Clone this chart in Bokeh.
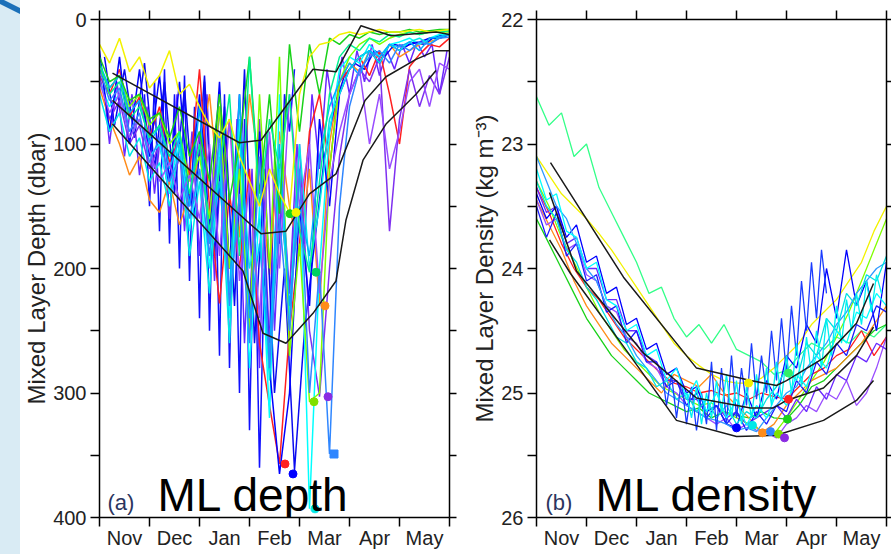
import numpy as np
from bokeh.plotting import figure
from bokeh.models import Range1d, FixedTicker, LinearAxis, Label, Div, CustomJSTickFormatter
from bokeh.layouts import row
from bokeh.embed import file_html
from bokeh.resources import INLINE

# ---------------- DATA ----------------
months = ["Nov", "Dec", "Jan", "Feb", "Mar", "Apr", "May"]
month_edges = [0, 1, 2, 3, 4, 5, 6, 7]
month_centers = [0.5, 1.5, 2.5, 3.5, 4.5, 5.5, 6.5]
depth_ticks = [0, 100, 200, 300, 400]
depth_minor = [50, 150, 250, 350]
density_ticks = [22, 23, 24, 25, 26]
density_minor = [22.5, 23.5, 24.5, 25.5]

# (a) mixed layer depth per float (dbar), sampled from a start month at a fixed step (months)
depth_red = [45, 60, 40, 78, 62, 95, 70, 115, 95, 125, 40, 150, 228, 140, 200, 120, 260, 310, 357, 250, 180, 90, 60, 120, 50, 40, 30, 45, 25, 60, 100, 38, 28, 20, 22, 15]
depth_orange = [55, 80, 100, 125, 110, 145, 155, 130, 165, 140, 110, 60, 145, 80, 175, 60, 120, 205, 90, 150, 190, 120, 230, 100, 50, 35, 42, 25, 35, 20, 30, 25, 20, 18, 15, 12]
depth_yellow = [20, 35, 15, 42, 30, 55, 45, 25, 60, 52, 70, 85, 95, 80, 110, 130, 150, 120, 140, 155, 60, 30, 20, 18, 12, 10, 12, 10, 8, 10, 10, 9, 8, 10, 9, 8]
depth_chartreuse = [40, 55, 45, 70, 60, 85, 75, 100, 90, 130, 110, 160, 70, 200, 120, 250, 60, 200, 30, 270, 180, 307, 300, 120, 50, 30, 20, 15, 20, 15, 12, 10, 12, 10, 10, 10]
depth_green = [30, 50, 45, 65, 60, 80, 75, 95, 70, 110, 90, 130, 60, 145, 100, 30, 140, 60, 156, 20, 90, 20, 60, 15, 20, 12, 15, 10, 12, 10, 10, 8, 10, 9, 8, 8]
depth_spring = [35, 60, 50, 80, 70, 95, 85, 110, 90, 140, 100, 170, 120, 60, 190, 30, 150, 80, 120, 60, 170, 203, 130, 60, 30, 20, 25, 15, 18, 12, 14, 10, 12, 10, 10, 9]
depth_cyan = [50, 70, 60, 95, 80, 110, 100, 140, 90, 170, 120, 200, 100, 240, 80, 280, 150, 320, 60, 250, 120, 393, 200, 90, 40, 30, 35, 20, 30, 20, 18, 15, 20, 15, 12, 12]
depth_turquoise = [60, 90, 75, 110, 95, 130, 115, 150, 100, 190, 130, 220, 110, 260, 90, 200, 160, 290, 120, 240, 100, 200, 150, 80, 60, 40, 30, 25, 35, 20, 25, 18, 15, 20, 14, 12]
depth_sky = [35, 55, 45, 75, 65, 100, 85, 120, 95, 150, 70, 180, 130, 220, 60, 240, 180, 270, 100, 230, 150, 190, 110, 70, 50, 35, 45, 25, 30, 20, 22, 18, 25, 15, 14, 12]
depth_dodger = [40, 65, 55, 90, 75, 115, 95, 130, 110, 160, 120, 190, 90, 230, 140, 260, 110, 280, 160, 250, 120, 300, 200, 349, 150, 70, 40, 30, 25, 35, 20, 25, 18, 20, 15, 14]
depth_violet = [45, 80, 65, 100, 85, 120, 100, 140, 110, 150, 90, 180, 70, 200, 150, 230, 80, 260, 140, 220, 100, 250, 303, 200, 110, 60, 40, 50, 30, 170, 80, 40, 70, 45, 60, 30]
depth_purple = [50, 75, 60, 95, 80, 105, 130, 115, 145, 125, 160, 100, 190, 80, 210, 130, 240, 90, 200, 60, 150, 100, 220, 130, 90, 60, 40, 100, 60, 120, 90, 50, 40, 70, 35, 40]
depth_indigo = [40, 100, 50, 110, 60, 125, 70, 140, 80, 160, 60, 170, 90, 190, 60, 210, 100, 230, 80, 260, 120, 280, 90, 250, 130, 220, 100, 180, 60, 120, 40, 80, 30, 60, 25, 50, 20, 45, 25, 40, 20, 35, 18, 30, 20, 60, 25]
depth_blue1 = [25, 90, 30, 100, 40, 110, 45, 130, 50, 150, 60, 170, 50, 200, 60, 240, 90, 280, 365, 300, 150, 230, 80, 150, 60, 40, 30, 25, 35, 20, 25, 20, 18, 15, 15, 12]
depth_blue2 = [30, 85, 40, 95, 35, 120, 50, 140, 55, 160, 45, 190, 70, 230, 40, 260, 120, 300, 200, 362, 250, 180, 110, 70, 45, 35, 40, 25, 30, 20, 22, 18, 20, 14, 12]
depth_blue3 = [60, 150, 50, 170, 40, 180, 60, 200, 45, 210, 70, 240, 50, 250, 90, 270, 60, 280, 120, 300, 80, 330, 150, 360, 200, 260, 120, 180, 60, 90, 40]

depth_series = [  # (color, start month, step in months, values), drawn in this order
    ("#1010ff", 0.9, 0.1, depth_blue3),
    ("#6a28ff", 0.05, 0.15, depth_indigo),
    ("#ff8c1a", 0.0, 0.2, depth_orange),
    ("#0a0af0", 0.1, 0.2, depth_blue2),
    ("#ff2020", 0.0, 0.2, depth_red),
    ("#7f30f0", 0.0, 0.2, depth_violet),
    ("#00ffff", 0.0, 0.2, depth_cyan),
    ("#0000ff", 0.0, 0.2, depth_blue1),
    ("#00e8e8", 0.0, 0.2, depth_turquoise),
    ("#80ff00", 0.0, 0.2, depth_chartreuse),
    ("#00b0ff", 0.0, 0.2, depth_sky),
    ("#9a4dff", 0.0, 0.2, depth_purple),
    ("#19d219", 0.0, 0.2, depth_green),
    ("#00f090", 0.0, 0.2, depth_spring),
    ("#2f86ff", 0.0, 0.2, depth_dodger),
    ("#f2f200", 0.0, 0.2, depth_yellow),
]

# (a) black summary curves (month, dbar)
depth_shallow_t = [0.26, 2.8, 3.23, 4.27, 4.73, 5.23, 5.83, 6.73, 7.0]
depth_shallow_v = [43, 99, 97, 40, 42, 5, 13, 10, 12]
depth_mean_t = [0.26, 3.23, 3.73, 4.2, 4.73, 5.31, 5.73, 6.33, 6.73, 7.0]
depth_mean_v = [65, 172, 170, 140, 124, 65, 46, 32, 25, 25]
depth_deep_t = [0.26, 2.87, 3.27, 3.73, 4.27, 4.73, 4.93, 5.27, 5.73, 6.33, 6.73]
depth_deep_v = [84, 202, 252, 260, 236, 210, 161, 113, 84, 60, 41]

# (a) deepest mixed layer of each float
depth_max_t = [3.81, 3.93, 4.33, 4.51, 4.29, 4.57, 3.71, 3.87, 4.31]
depth_max_v = [156, 155, 203, 230, 307, 303, 357, 365, 393]
depth_max_c = ["#19d219", "#f2f200", "#00d060", "#ff8c1a", "#80e000", "#8a2be2", "#ff2020", "#0000ff", "#00e8e8"]
depth_sq_t = [4.69]
depth_sq_v = [349]
depth_sq_c = ["#2f86ff"]

# (b) mixed layer density per float (kg m-3)
dens_green_hi = [22.62, 22.85, 22.75, 23.1, 23.0, 23.35, 23.55, 23.75, 23.95, 24.2, 24.15, 24.4, 24.55, 24.45, 24.6, 24.45, 24.65, 24.7, 24.75, 24.85, 24.82, 24.7, 24.6, 24.65, 24.55, 24.6, 24.5, 24.55, 24.45]
dens_green = [23.6, 23.8, 24.0, 24.2, 24.4, 24.55, 24.7, 24.8, 24.9, 25.0, 25.05, 25.1, 25.15, 25.12, 25.2, 25.15, 25.18, 25.2, 25.15, 25.2, 25.21, 25.1, 24.95, 24.9, 24.8, 24.7, 24.6, 24.5, 24.45]
dens_yellow = [23.1, 23.25, 23.4, 23.5, 23.6, 23.72, 23.85, 24.0, 24.15, 24.3, 24.45, 24.6, 24.7, 24.78, 24.85, 24.9, 24.92, 24.92, 24.88, 24.8, 24.7, 24.6, 24.45, 24.35, 24.25, 24.1, 23.95, 23.7, 23.5]
dens_chartreuse = [23.3, 23.5, 23.75, 23.95, 24.15, 24.35, 24.5, 24.65, 24.75, 24.85, 24.95, 25.0, 25.05, 25.1, 25.08, 25.15, 25.2, 25.25, 25.3, 25.33, 25.2, 25.05, 24.9, 24.75, 24.55, 24.35, 24.1, 23.85, 23.6]
dens_red = [23.35, 23.55, 23.8, 24.0, 24.15, 24.25, 24.4, 24.55, 24.65, 24.75, 24.85, 24.92, 24.95, 25.0, 24.98, 25.02, 25.0, 25.05, 25.0, 25.03, 25.05, 24.95, 24.85, 24.8, 24.7, 24.65, 24.5, 24.7, 24.55]
dens_orange = [23.45, 23.65, 23.85, 24.1, 24.3, 24.45, 24.6, 24.7, 24.8, 24.9, 25.0, 24.85, 24.9, 24.95, 24.85, 25.0, 25.1, 25.2, 25.32, 25.25, 25.1, 25.0, 24.9, 24.85, 24.8, 24.7, 24.6, 24.45, 24.3]
dens_cyan = [23.2, 23.45, 23.4, 23.7, 23.75, 24.0, 23.95, 24.25, 24.3, 24.5, 24.45, 24.7, 24.65, 24.9, 24.8, 25.05, 24.9, 25.15, 25.0, 25.2, 25.05, 25.26, 25.1, 25.2, 25.0, 25.1, 24.85, 24.95, 24.7, 24.8, 24.5, 24.6, 24.35, 24.4, 24.2, 24.3]
dens_cyan2 = [23.3, 23.5, 23.6, 23.85, 23.95, 24.15, 24.25, 24.4, 24.55, 24.6, 24.75, 24.8, 24.95, 24.9, 25.05, 25.0, 25.15, 25.05, 25.2, 25.1, 25.25, 25.15, 25.2, 25.05, 24.95, 24.8, 24.9, 24.6, 24.7, 24.4, 24.5, 24.2, 24.3, 24.05, 24.1, 23.9]
dens_cyan3 = [25.0, 25.2, 24.95, 25.25, 25.0, 25.2, 24.9, 25.15, 24.85, 25.2, 24.9, 25.25, 24.95, 25.2, 24.85, 25.15, 24.8, 25.1, 24.75, 25.05, 24.7, 25.0, 24.6, 24.95, 24.55, 24.85, 24.5, 24.8, 24.4, 24.7, 24.3, 24.6, 24.25, 24.5, 24.2, 24.45, 24.1, 24.35, 24.05, 24.2]
dens_sky = [23.1, 23.3, 23.5, 23.6, 23.8, 24.0, 24.1, 24.3, 24.45, 24.55, 24.7, 24.8, 24.9, 25.0, 25.05, 25.1, 25.15, 25.2, 25.22, 25.25, 25.3, 25.28, 25.31, 25.2, 25.1, 25.0, 24.95, 24.8, 24.7, 24.6, 24.45, 24.35, 24.2, 24.1, 24.0, 23.95]
dens_blue1 = [23.4, 23.6, 23.5, 23.75, 23.65, 23.95, 23.9, 24.2, 24.15, 24.45, 24.4, 24.65, 24.6, 24.85, 24.8, 25.0, 24.95, 25.15, 25.1, 25.25, 25.28, 25.0, 25.2, 24.9, 25.05, 24.7, 24.8, 24.45, 24.6, 24.0, 24.4, 23.85, 24.3, 24.1, 24.5, 23.95]
dens_blue2 = [23.5, 23.75, 23.55, 23.9, 23.8, 24.1, 24.05, 24.35, 24.3, 24.6, 24.5, 24.75, 24.75, 24.95, 24.9, 25.1, 25.0, 25.2, 25.1, 25.25, 25.15, 25.3, 25.15, 25.25, 25.1, 25.15, 24.9, 25.0, 24.75, 24.85, 24.6, 24.7, 24.45, 24.5, 24.3, 24.35]
dens_blue3 = [24.8, 25.1, 24.85, 25.2, 24.9, 25.25, 24.95, 25.3, 25.0, 25.25, 24.75, 25.3, 24.8, 25.25, 24.7, 25.2, 24.8, 25.1, 24.6, 25.05, 24.7, 25.0, 24.5, 24.9, 24.4, 24.85, 24.3, 24.7, 24.1, 24.5, 23.95, 24.4, 23.85, 24.2]
dens_purple1 = [23.45, 23.65, 23.6, 23.85, 23.8, 24.05, 24.1, 24.3, 24.35, 24.55, 24.6, 24.75, 24.8, 24.95, 25.0, 25.1, 25.15, 25.2, 25.25, 25.2, 25.3, 25.25, 25.3, 25.32, 25.36, 25.25, 25.2, 25.1, 25.15, 25.0, 25.05, 24.9, 25.1, 25.0, 24.8, 24.55]
dens_purple2 = [23.35, 23.55, 23.5, 23.8, 23.75, 24.0, 24.0, 24.25, 24.25, 24.5, 24.5, 24.7, 24.75, 24.9, 24.9, 25.05, 25.05, 25.15, 25.1, 25.2, 25.15, 25.25, 25.2, 25.15, 25.1, 25.2, 25.05, 25.15, 24.95, 25.05, 24.85, 24.9, 24.7, 24.75, 24.6, 24.65]

dens_series = [
    ("#33ff88", 0.0, 0.25, dens_green_hi),
    ("#19d219", 0.0, 0.25, dens_green),
    ("#f2f200", 0.0, 0.25, dens_yellow),
    ("#80ff00", 0.0, 0.25, dens_chartreuse),
    ("#ff2020", 0.0, 0.25, dens_red),
    ("#ff8c1a", 0.0, 0.25, dens_orange),
    ("#9a4dff", 0.0, 0.2, dens_purple1),
    ("#6a28ff", 0.0, 0.2, dens_purple2),
    ("#0000ff", 0.0, 0.2, dens_blue1),
    ("#1a1aff", 0.0, 0.2, dens_blue2),
    ("#2f9bff", 0.0, 0.2, dens_sky),
    ("#00e0e0", 0.0, 0.2, dens_cyan2),
    ("#1a3cff", 2.5, 0.1, dens_blue3),
    ("#00ffff", 0.0, 0.2, dens_cyan),
    ("#00f0f0", 3.0, 0.1, dens_cyan3),
]

dens_upper_t = [0.28, 1.74, 3.2, 4.28, 4.8, 5.0, 5.74, 6.4, 6.74]
dens_upper_v = [23.15, 24.07, 24.80, 24.90, 24.94, 24.90, 24.72, 24.44, 24.12]
dens_mean_t = [0.26, 0.8, 2.14, 3.2, 4.28, 4.74, 5.0, 5.74, 6.4, 6.74]
dens_mean_v = [23.39, 24.02, 24.68, 25.04, 25.12, 25.12, 25.06, 24.96, 24.70, 24.47]
dens_lower_t = [0.26, 0.68, 1.8, 2.8, 4.0, 4.8, 5.74, 6.4, 6.74]
dens_lower_v = [23.77, 24.04, 24.66, 25.22, 25.35, 25.34, 25.22, 25.06, 24.90]

dens_max_t = [4.24, 5.04, 5.02, 4.0, 4.32, 4.52, 4.68, 4.84, 4.96, 5.04]
dens_max_v = [24.92, 25.05, 25.21, 25.28, 25.26, 25.32, 25.31, 25.33, 25.36, 24.84]
dens_max_c = ["#f2f200", "#ff2020", "#19d219", "#0000ff", "#00e8e8", "#ff8c1a", "#2f86ff", "#80e000", "#8a2be2", "#33ee66"]

# ---------------- STYLE / BUILD ----------------
FONT = "Liberation Sans"
TICK_COLOR = "#222222"


def make_panel(left_border, right_border, y_start, y_end, yticks, yminor, ylabel, label_standoff, right_tick):
    p = figure(frame_width=350, frame_height=498,
               x_range=Range1d(0, 7), y_range=Range1d(y_start, y_end),
               x_axis_location=None, y_axis_location=None,
               output_backend="svg", toolbar_location=None,
               min_border_left=left_border, min_border_right=right_border,
               min_border_top=19, min_border_bottom=37)
    p.xgrid.visible = False
    p.ygrid.visible = False
    p.outline_line_color = None
    p.background_fill_color = "white"
    p.border_fill_color = "white"

    common = dict(axis_line_color="black", axis_line_width=1.5,
                  major_tick_line_color="black", major_tick_line_width=1.5,
                  minor_tick_line_color="black", minor_tick_line_width=1.5,
                  major_label_text_font=FONT, major_label_text_color=TICK_COLOR,
                  major_label_text_font_size="20px")

    left = LinearAxis(ticker=FixedTicker(ticks=yticks, minor_ticks=yminor),
                      axis_label=ylabel, axis_label_text_font=FONT,
                      axis_label_text_font_size="24px", axis_label_text_font_style="normal",
                      axis_label_text_color=TICK_COLOR, axis_label_standoff=label_standoff,
                      major_tick_out=9, major_tick_in=0, minor_tick_out=9, minor_tick_in=0,
                      major_label_standoff=4, **common)
    p.add_layout(left, "left")

    bottom = LinearAxis(ticker=FixedTicker(ticks=month_centers, minor_ticks=month_edges),
                        formatter=CustomJSTickFormatter(args=dict(labels=months),
                                                        code="return labels[Math.floor(tick)]"),
                        major_tick_out=0, major_tick_in=0, minor_tick_out=9, minor_tick_in=0,
                        major_label_standoff=0, **common)
    bottom.major_tick_line_color = None
    p.add_layout(bottom, "below")

    top = LinearAxis(ticker=FixedTicker(ticks=month_edges, minor_ticks=[]),
                     formatter=CustomJSTickFormatter(code="return ''"),
                     major_tick_out=9, major_tick_in=0, major_label_standoff=0, **common)
    top.major_label_text_color = None
    p.add_layout(top, "above")

    right = LinearAxis(ticker=FixedTicker(ticks=sorted(yticks + yminor), minor_ticks=[]),
                       formatter=CustomJSTickFormatter(code="return ''"),
                       major_tick_out=right_tick, major_tick_in=0, major_label_standoff=0, **common)
    right.major_label_text_color = None
    p.add_layout(right, "right")
    return p


def draw_series(p, series, width):
    for color, start, step, vals in series:
        x = start + step * np.arange(len(vals))
        p.line(x, vals, line_color=color, line_width=width)


# Panel (a)
pa = make_panel(76, 14, 400, 0, depth_ticks, depth_minor, "Mixed Layer Depth (dbar)", 0, 7)
draw_series(pa, depth_series, 1.5)
for t, v in [(depth_shallow_t, depth_shallow_v), (depth_mean_t, depth_mean_v), (depth_deep_t, depth_deep_v)]:
    pa.line(t, v, line_color="#1a1a1a", line_width=1.5)
pa.scatter(depth_max_t, depth_max_v, color=depth_max_c, size=8, marker="circle")
pa.scatter(depth_sq_t, depth_sq_v, color=depth_sq_c, size=8, marker="square")
pa.add_layout(Label(x=0.16, y=388, text="(a)", text_font=FONT, text_font_size="22px",
                    text_color="#2b3560", text_baseline="alphabetic", level="overlay"))
pa.add_layout(Label(x=1.16, y=382, text="ML depth", text_font=FONT, text_font_size="46px",
                    text_color="black", text_baseline="alphabetic", level="overlay"))

# Panel (b)
pb = make_panel(73, 8, 26, 22, density_ticks, density_minor, "Mixed Layer Density (kg m\u207b\u00b3)", 0, 6)
draw_series(pb, dens_series, 1.3)
for t, v in [(dens_upper_t, dens_upper_v), (dens_mean_t, dens_mean_v), (dens_lower_t, dens_lower_v)]:
    pb.line(t, v, line_color="#1a1a1a", line_width=1.5)
pb.scatter(dens_max_t, dens_max_v, color=dens_max_c, size=8, marker="circle")
pb.add_layout(Label(x=0.18, y=25.88, text="(b)", text_font=FONT, text_font_size="22px",
                    text_color="#2b3560", text_baseline="alphabetic", level="overlay"))
pb.add_layout(Label(x=1.18, y=25.82, text="ML density", text_font=FONT, text_font_size="46px",
                    text_color="black", text_baseline="alphabetic", level="overlay"))

# slide decoration strip on the left
strip = Div(text='<svg width="20" height="554" style="display:block">'
                 '<polygon points="0,-2 20,8 20,14 0,4" fill="#1b70b9"/></svg>',
            width=20, height=554,
            styles={"background-color": "#d9ebf4", "margin": "0", "padding": "0"})

layout = row(strip, pa, pb)

html = file_html(layout, INLINE, title="ML depth and density")
html = html.replace("</head>", "<style>html,body{margin:0;padding:0;overflow:hidden;background:white;}</style></head>", 1)
open("out.html", "w").write(html)
